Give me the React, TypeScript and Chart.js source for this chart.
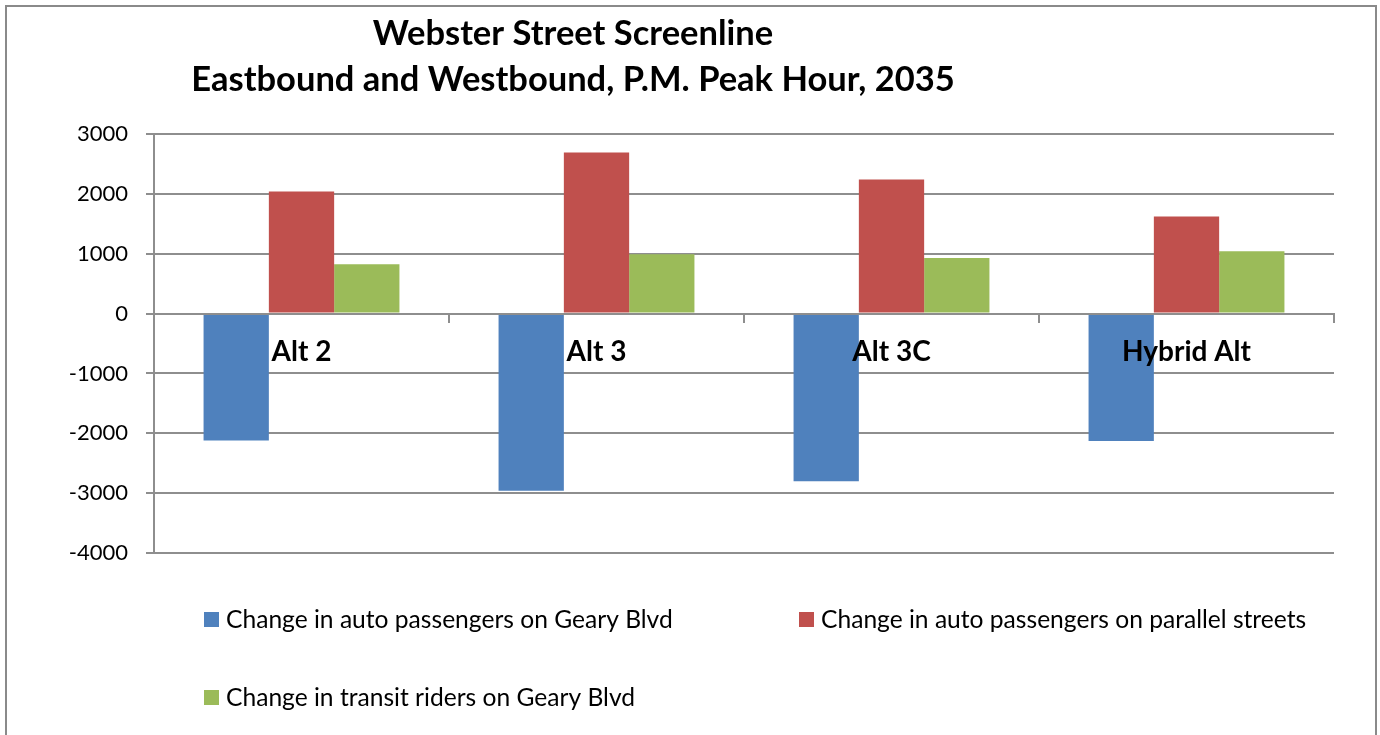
import { useEffect, useRef } from 'react';
import { Chart, registerables } from 'chart.js';

Chart.register(...registerables);

// ---- data ----
const categories = ['Alt 2', 'Alt 3', 'Alt 3C', 'Hybrid Alt'];
const seriesNames = [
  'Change in auto passengers on Geary Blvd',
  'Change in auto passengers on parallel streets',
  'Change in transit riders on Geary Blvd',
];
const autoGeary = [-2120, -2960, -2800, -2130];
const autoParallel = [2040, 2690, 2240, 1620];
const transitGeary = [825, 990, 930, 1040];
const seriesColors = ['#4F81BD', '#C0504D', '#9BBB59'];
const titleLines = ['Webster Street Screenline', 'Eastbound and Westbound, P.M. Peak Hour, 2035'];
const yMin = -4000;
const yMax = 3000;
const yStep = 1000;

const FONT = 'Lato, "Open Sans", sans-serif';
const GRID = '#8e8e8e';

const decorPlugin = {
  id: 'decor',
  beforeDraw(chart: any) {
    const ctx = chart.ctx;
    ctx.save();
    ctx.strokeStyle = '#8a8a8a';
    ctx.lineWidth = 2;
    ctx.strokeRect(6, 6, 1370, 800);
    ctx.restore();
  },
  afterDraw(chart: any) {
    const ctx = chart.ctx;
    ctx.save();
    // title
    ctx.fillStyle = '#000';
    ctx.textAlign = 'center';
    ctx.textBaseline = 'middle';
    ctx.font = `bold 34.5px ${FONT}`;
    const titleY = [34, 80];
    titleLines.forEach((t, i) => ctx.fillText(t, 573, titleY[i]));
    // legend
    const pos = [
      { x: 204, y: 619 },
      { x: 799, y: 619 },
      { x: 204, y: 697 },
    ];
    ctx.textAlign = 'left';
    ctx.font = `24.6px ${FONT}`;
    chart.data.datasets.forEach((ds: any, i: number) => {
      const p = pos[i];
      ctx.fillStyle = ds.backgroundColor;
      ctx.fillRect(p.x, p.y - 7, 15, 15);
      ctx.fillStyle = '#000';
      ctx.fillText(ds.label, p.x + 22, p.y + 1);
    });
    ctx.restore();
  },
};

export default function App() {
  const ref = useRef<HTMLCanvasElement>(null);
  useEffect(() => {
    if (!ref.current) return;
    const chart = new Chart(ref.current, {
      type: 'bar',
      data: {
        labels: categories,
        datasets: [autoGeary, autoParallel, transitGeary].map((d, i) => ({
          label: seriesNames[i],
          data: d,
          backgroundColor: seriesColors[i],
          borderWidth: 0,
          categoryPercentage: 0.664,
          barPercentage: 1,
        })),
      },
      options: {
        animation: false,
        responsive: false,
        devicePixelRatio: 1,
        layout: { padding: { left: 0, right: 46, top: 134, bottom: 182 } },
        plugins: {
          legend: { display: false },
          title: { display: false },
          tooltip: { enabled: false },
        },
        scales: {
          x: {
            type: 'category',
            position: { y: 0 },
            afterFit: (s: any) => {
              s.height = 0;
            },
            grid: {
              display: true,
              drawOnChartArea: false,
              drawTicks: true,
              tickLength: 8,
              color: GRID,
              lineWidth: 2,
              offset: true,
            },
            border: { display: true, color: GRID, width: 2, z: 1 },
            ticks: {
              z: 2,
              color: '#000',
              font: { family: FONT, size: 28, weight: 'bold' },
              padding: 14,
              maxRotation: 0,
              autoSkip: false,
            },
          },
          y: {
            min: yMin,
            max: yMax,
            afterFit: (s: any) => {
              s.width = 154;
            },
            ticks: {
              stepSize: yStep,
              color: '#000',
              font: { family: FONT, size: 22 },
              padding: 18,
              callback: (v: any) => String(v),
            },
            grid: { color: GRID, lineWidth: 2, tickLength: 8 },
            border: { display: true, color: GRID, width: 2 },
          },
        },
      },
      plugins: [decorPlugin],
    } as any);
    return () => chart.destroy();
  }, []);
  return (
    <div style={{ position: 'absolute', left: 0, top: 0, width: 1380, height: 735 }}>
      <canvas ref={ref} width={1380} height={735} />
    </div>
  );
}
